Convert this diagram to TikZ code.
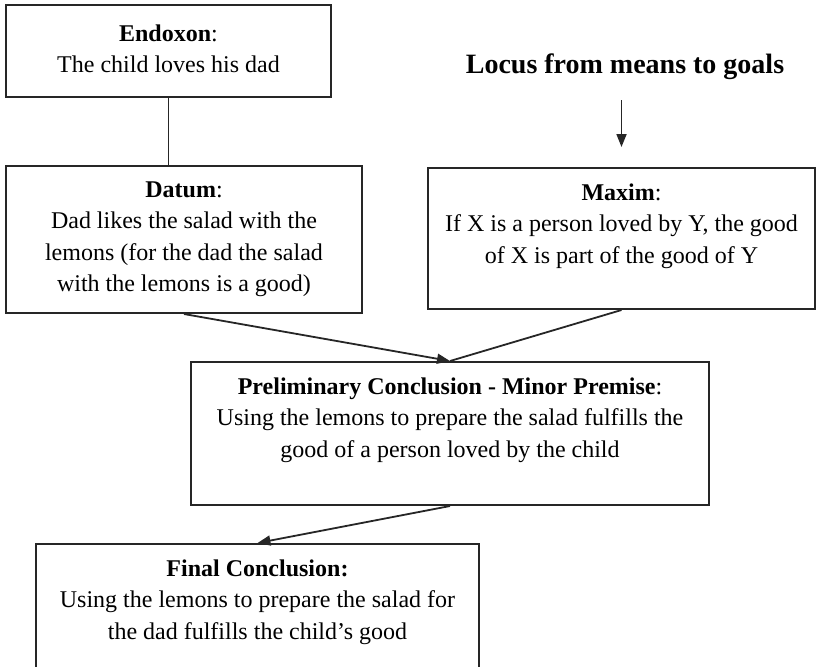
\documentclass[tikz,border=0pt]{standalone}
\usepackage{fontspec}
\setmainfont{Liberation Serif}
\usetikzlibrary{arrows.meta}
\begin{document}
\begin{tikzpicture}[x=0.5pt,y=-0.5pt,
  frame/.style={draw=black!85, line width=1pt, rectangle, inner sep=0pt},
  caption/.style={anchor=north, inner sep=0pt, align=center,
    font=\fontsize{12}{15.7}\selectfont, yshift=-8.2pt},
  link/.style={draw=black!85, line width=0.9pt},
  arrowlink/.style={link, -{Triangle[length=6.5pt,width=5pt]}}
]
\useasboundingbox (0,0) rectangle (817,666);
\clip (0,0) rectangle (817,666);

% boxes
\node[frame, minimum width=162.5pt, minimum height=46pt]   (endoxon) at (168.5,51)   {};
\node[frame, minimum width=178pt,   minimum height=73.5pt] (datum)   at (184,239.5)  {};
\node[frame, minimum width=193.5pt, minimum height=70.5pt] (maxim)   at (621.5,238.5){};
\node[frame, minimum width=259pt,   minimum height=71.5pt] (prelim)  at (450,433.5)  {};
\node[frame, minimum width=221.5pt, minimum height=78pt]   (final)   at (257.5,622)  {};

% box texts
\node[caption, yshift=-2pt] (endoxonText) at (endoxon.north) {\textbf{Endoxon}:\\The child loves his dad};
\node[caption] (datumText) at (datum.north) {\textbf{Datum}:\\Dad likes the salad with the\\lemons (for the dad the salad\\with the lemons is a good)};
\node[caption] (maximText) at (maxim.north) {\textbf{Maxim}:\\If X is a person loved by Y, the good\\of X is part of the good of Y};
\node[caption] (prelimText) at (prelim.north) {\textbf{Preliminary Conclusion - Minor Premise}:\\Using the lemons to prepare the salad fulfills the\\good of a person loved by the child};
\node[caption] (finalText) at (final.north) {\textbf{Final Conclusion:}\\Using the lemons to prepare the salad for\\the dad fulfills the child’s good};

% locus heading
\node[font=\fontsize{14}{17}\selectfont\bfseries, inner sep=0pt] (locus) at (625,67) {Locus from means to goals};

% connectors
\draw[arrowlink, shorten <=10pt, shorten >=10pt] (locus.south -| maxim.north) -- (maxim.north);
\draw[link] (endoxon.south) -- (endoxon.south |- datum.north);
\draw[arrowlink] (datum.south) -- (prelim.north);
\draw[link] (maxim.south) -- (prelim.north);
\draw[arrowlink] (prelim.south) -- (final.north);
\end{tikzpicture}
\end{document}
